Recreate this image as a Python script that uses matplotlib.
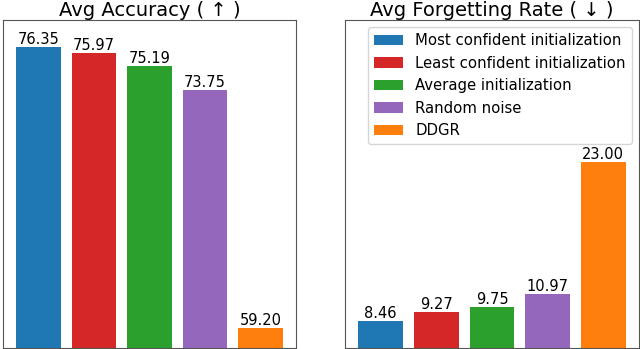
import matplotlib
matplotlib.use("Agg")
import matplotlib.pyplot as plt

methods = ["Most confident initialization", "Least confident initialization",
           "Average initialization", "Random noise", "DDGR"]
colors = ["#1f77b4", "#d62728", "#2ca02c", "#9467bd", "#ff7f0e"]
accuracy = [76.35, 75.97, 75.19, 73.75, 59.20]
forgetting = [8.46, 9.27, 9.75, 10.97, 23.00]

fig = plt.figure(figsize=(6.4, 3.49), dpi=100)
ax1 = fig.add_axes([3/640, 1/349, 293/640, 328/349])
ax2 = fig.add_axes([345/640, 1/349, 294/640, 328/349])

x = list(range(len(methods)))
for ax, vals, title, ylim in [(ax1, accuracy, "Avg Accuracy ( \u2191 )", (58, 78)),
                              (ax2, forgetting, "Avg Forgetting Rate ( \u2193 )", (6, 36))]:
    bars = ax.bar(x, vals, width=0.8, color=colors, label=methods)
    for b, v in zip(bars, vals):
        ax.text(b.get_x() + b.get_width()/2, v, f"{v:.2f}", ha="center", va="bottom", fontsize=10.5)
    ax.set_ylim(*ylim)
    ax.set_xticks([])
    ax.set_yticks([])
    ax.set_title(title, fontsize=14, pad=3)
    for s in ax.spines.values():
        s.set_color("#555555")

handles = ax2.patches[:5]
ax2.legend(handles, methods, loc="upper right", fontsize=10.7, handlelength=2.0)

fig.savefig("out.png", dpi=100)
